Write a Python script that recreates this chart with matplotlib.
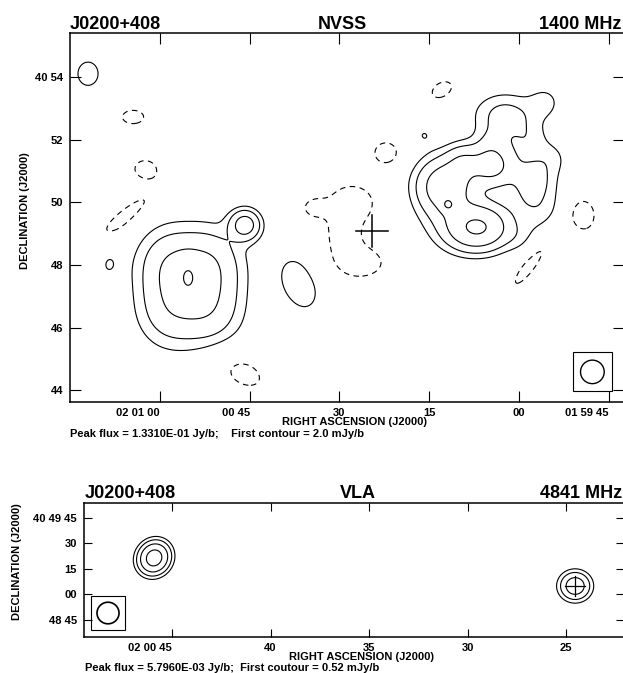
import numpy as np
import matplotlib
matplotlib.use('Agg')
import matplotlib.pyplot as plt
from matplotlib.patches import Ellipse, Rectangle

plt.rcParams['font.family'] = ['Liberation Sans', 'DejaVu Sans']
plt.rcParams['font.weight'] = 'bold'

# RA is given in seconds after 02h00m (negative = 01h59m..), NVSS Dec in arcmin
# after +40d, VLA Dec in arcsec after +40d48m. Peaks in mJy/beam, widths in arcsec.
RA_TO_ARCSEC = 15 * np.cos(np.radians(40.8))

# ── NVSS 1400 MHz source model (Gaussian components) ────────────────────────
nvss_ra   = [72.04, 64.51, 62.51, 66.02, 68.70,
             58.33, 51.64, 58.33, 51.64, 55.32,
             45.79, 36.76, 46.12,
             27.89, 26.56, 29.40, 34.41, 22.21, 12.84, 15.85, -10.90, -2.04,
             12.34, 9.33, 12.01, 4.48, 4.48, 7.66, 11.84, 4.48, 2.31,
             -1.54, -4.38, -2.37, -0.20, -3.55, -5.55, -0.20]
nvss_dec  = [54.10, 52.72, 51.07, 49.50, 48.07,
             48.00, 48.00, 46.54, 46.54, 47.59,
             49.28, 47.40, 44.56,
             49.98, 48.07, 48.96, 49.82, 51.58, 53.59, 52.15, 49.57, 48.07,
             50.52, 51.35, 49.37, 51.19, 49.25, 49.18, 49.92, 51.99, 52.79,
             51.99, 53.20, 50.71, 49.98, 49.69, 51.42, 48.86]
nvss_peak = [3.5, -2.5, -3.0, -2.6, 2.02,
             6.8, 6.8, 5.5, 5.8, 6.2,
             11.0, 3.0, -2.5,
             -3.2, -3.0, -2.6, -2.3, -3.0, -2.5, 1.9, -3.0, -2.5,
             12.3, 5.0, 2.1, 9.7, 5.6, 13.5, 8.0, 2.2, 5.0,
             2.8, 2.4, 5.1, 0.7, 2.7, 2.0, 1.7]
nvss_smaj = [21, 30, 21, 80, 30,
             48, 48, 48, 48, 22,
             19, 51, 51,
             39, 44, 30, 20, 23, 30, 15, 28, 72,
             36, 22, 40, 28, 30, 34, 8, 22, 40,
             26, 22, 30, 22, 30, 22, 22]
nvss_smin = [18, 19, 17, 19, 19,
             42, 42, 42, 42, 13,
             19, 32, 31,
             32, 28, 26, 17, 21, 20, 15, 21, 17,
             36, 22, 40, 28, 30, 28, 8, 22, 28,
             26, 22, 30, 22, 30, 22, 22]
nvss_pa   = [90, 0, 0, 40, 90,
             90, 90, 90, 90, 90,
             0, -67, -28,
             0, 0, 90, 0, 0, 30, 0, 90, 54,
             0, 0, 0, 0, 0, 0, 0, 0, 0,
             0, 0, 0, 0, 0, 0, 0]
nvss_levels = [2.0, 4.0, 8.0, 16.0]
nvss_neg_level = -2.0
nvss_beam = 45.0            # arcsec FWHM
nvss_beam_pos = (-12.3, 44.59)

# ── VLA 4841 MHz source model ───────────────────────────────────────────────
vla_ra   = [45.91, 24.54]
vla_dec  = [81.5, 65.0]
vla_peak = [5.80, 3.2]
vla_smaj = [5.9, 5.6]
vla_smin = [5.3, 5.3]
vla_pa   = [60, 0]
vla_levels = [0.52, 1.04, 2.08, 4.16]
vla_beam = 12.7
vla_beam_pos = (48.25, 49.1)

# target position 02 00 24.55 +40 49 05
target_ra, target_dec_as = 24.55, 65.0


def sky_model(X, Y, dec_scale, ra, dec, peak, smaj, smin, pa):
    img = np.zeros_like(X)
    for r, d, p, a, b, t in zip(ra, dec, peak, smaj, smin, pa):
        dx = (r - X) * RA_TO_ARCSEC
        dy = (Y - d) * dec_scale
        th = np.radians(t)
        u = dx * np.cos(th) + dy * np.sin(th)
        v = -dx * np.sin(th) + dy * np.cos(th)
        img += p * np.exp(-0.5 * ((u / a) ** 2 + (v / b) ** 2))
    return img


def style_axes(ax, ticklen):
    ax.tick_params(direction='in', length=ticklen, width=0.8, top=True, right=True,
                   labelsize=8, colors='black')
    ax.tick_params(axis='x', pad=4)
    ax.tick_params(axis='y', pad=5)
    for s in ax.spines.values():
        s.set_linewidth(1.1)
    for lab in ax.get_xticklabels():
        if ' ' in lab.get_text():
            lab.set_ha('right')


fig = plt.figure(figsize=(6.23, 6.73), dpi=100)

# ── top panel: NVSS ─────────────────────────────────────────────────────────
ax1 = fig.add_axes([0.1124, 0.4027, 0.8892, 0.5483])
xs = np.linspace(-18, 76, 480)
ys = np.linspace(43.5, 55.5, 380)
X, Y = np.meshgrid(xs, ys)
Z = sky_model(X, Y, 60.0, nvss_ra, nvss_dec, nvss_peak, nvss_smaj, nvss_smin, nvss_pa)
ax1.contour(X, Y, Z, levels=nvss_levels, colors='black', linewidths=0.8)
cn = ax1.contour(X, Y, Z, levels=[nvss_neg_level], colors='black', linewidths=0.8)
cn.set_linestyle((0, (5, 4)))

# target cross
h_ra, h_dec = 30 / RA_TO_ARCSEC, 30 / 60
tdec = 48 + target_dec_as / 60
ax1.plot([target_ra - h_ra, target_ra + h_ra], [tdec, tdec], color='black', lw=1.1)
ax1.plot([target_ra, target_ra], [tdec - h_dec, tdec + h_dec], color='black', lw=1.1)

# beam
bx, by = nvss_beam_pos
ax1.add_patch(Ellipse((bx, by), nvss_beam / RA_TO_ARCSEC, nvss_beam / 60,
                      fill=False, ec='black', lw=1.0))
bw, bh = 1.65 * nvss_beam / RA_TO_ARCSEC, 1.65 * nvss_beam / 60
ax1.add_patch(Rectangle((bx - bw / 2, by - bh / 2), bw, bh, fill=False, ec='black', lw=0.8))

ax1.set_xlim(75.05, -17.59)
ax1.set_ylim(43.63, 55.40)
ax1.set_xticks([60, 45, 30, 15, 0, -15], ['02 01 00', '00 45', '30', '15', '00', '01 59 45'])
ax1.set_yticks([54, 52, 50, 48, 46, 44], ['40 54', '52', '50', '48', '46', '44'])
style_axes(ax1, 8)

fig.text(0.1124, 0.9569, 'J0200+408', fontsize=13, ha='left', va='baseline')
fig.text(0.549, 0.9569, 'NVSS', fontsize=13, ha='center', va='baseline')
fig.text(0.998, 0.9569, '1400 MHz', fontsize=13, ha='right', va='baseline')
fig.text(0.5698, 0.3730, 'RIGHT ASCENSION (J2000)', fontsize=8, ha='center', va='center')
fig.text(0.1124, 0.3551, 'Peak flux = 1.3310E-01 Jy/b;    First contour = 2.0 mJy/b',
         fontsize=8, ha='left', va='center')
fig.text(0.0401, 0.6865, 'DECLINATION (J2000)', fontsize=8, rotation=90, ha='center', va='center')

# ── bottom panel: VLA ───────────────────────────────────────────────────────
ax2 = fig.add_axes([0.1348, 0.0535, 0.8668, 0.1991])
xs2 = np.linspace(21, 51, 400)
ys2 = np.linspace(33, 116, 300)
X2, Y2 = np.meshgrid(xs2, ys2)
Z2 = sky_model(X2, Y2, 1.0, vla_ra, vla_dec, vla_peak, vla_smaj, vla_smin, vla_pa)
ax2.contour(X2, Y2, Z2, levels=vla_levels, colors='black', linewidths=0.8)

h2_ra, h2_dec = 5.9 / RA_TO_ARCSEC, 5.9
ax2.plot([target_ra - h2_ra, target_ra + h2_ra], [target_dec_as] * 2, color='black', lw=0.9)
ax2.plot([target_ra] * 2, [target_dec_as - h2_dec, target_dec_as + h2_dec], color='black', lw=0.9)

bx2, by2 = vla_beam_pos
ax2.add_patch(Ellipse((bx2, by2), vla_beam / RA_TO_ARCSEC, vla_beam,
                      fill=False, ec='black', lw=1.2))
bw2, bh2 = 1.55 * vla_beam / RA_TO_ARCSEC, 1.6 * vla_beam
ax2.add_patch(Rectangle((bx2 - bw2 / 2, by2 - bh2 / 2), bw2, bh2, fill=False, ec='black', lw=0.8))

ax2.set_xlim(49.47, 22.06)
ax2.set_ylim(35.0, 113.8)
ax2.set_xticks([45, 40, 35, 30, 25], ['02 00 45', '40', '35', '30', '25'])
ax2.set_yticks([105, 90, 75, 60, 45], ['40 49 45', '30', '15', '00', '48 45'])
style_axes(ax2, 6)

fig.text(0.1364, 0.2600, 'J0200+408', fontsize=13, ha='left', va='baseline')
fig.text(0.5746, 0.2600, 'VLA', fontsize=13, ha='center', va='baseline')
fig.text(0.998, 0.2600, '4841 MHz', fontsize=13, ha='right', va='baseline')
fig.text(0.581, 0.0238, 'RIGHT ASCENSION (J2000)', fontsize=8, ha='center', va='center')
fig.text(0.1364, 0.0074, 'Peak flux = 5.7960E-03 Jy/b;  First coutour = 0.52 mJy/b',
         fontsize=8, ha='left', va='center')
fig.text(0.0273, 0.1649, 'DECLINATION (J2000)', fontsize=8, rotation=90, ha='center', va='center')

fig.savefig('out.png', dpi=100)
